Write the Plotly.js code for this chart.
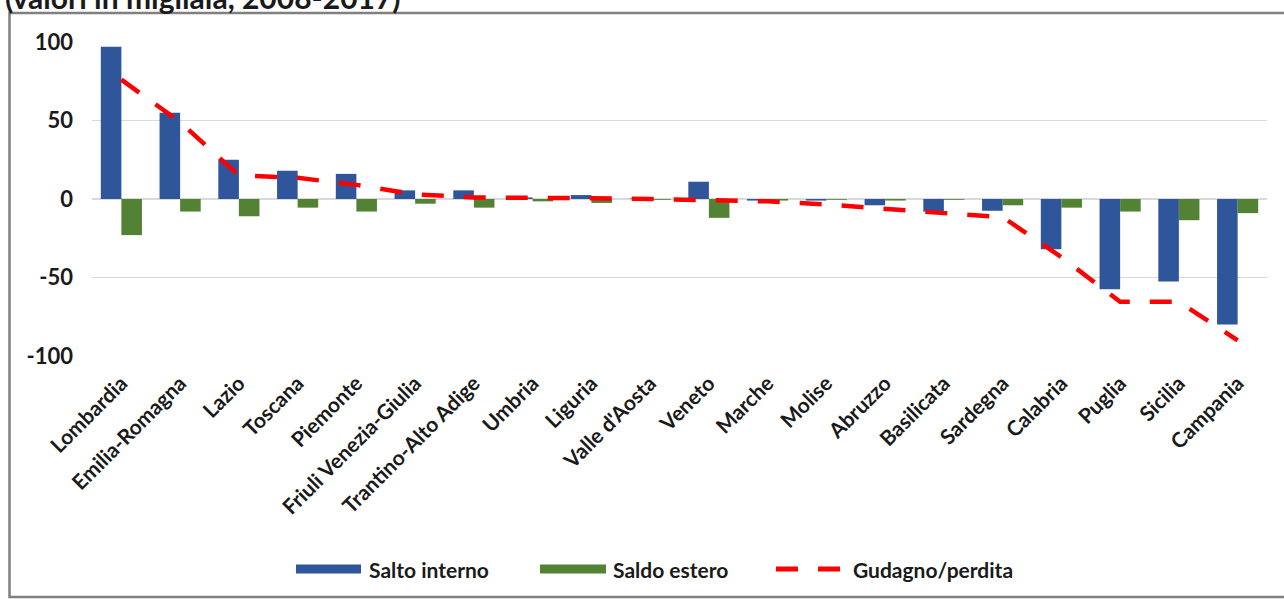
<!DOCTYPE html>
<html>
<head>
<meta charset="utf-8">
<script src="https://cdn.plot.ly/plotly-3.0.1.min.js"></script>
<style>
  html, body { margin: 0; padding: 0; background: #ffffff; }
  #chart { width: 1284px; height: 599px; }
</style>
</head>
<body>
<div id="chart"></div>
<script>
// Regioni, ordinate dal maggior guadagno alla maggior perdita
const regioni = [
  "Lombardia", "Emilia-Romagna", "Lazio", "Toscana", "Piemonte",
  "Friuli Venezia-Giulia", "Trantino-Alto Adige", "Umbria", "Liguria",
  "Valle d'Aosta", "Veneto", "Marche", "Molise", "Abruzzo", "Basilicata",
  "Sardegna", "Calabria", "Puglia", "Sicilia", "Campania"
];

// Valori in migliaia, 2008-2017
const saltoInterno = [97, 55, 25, 18, 16, 5.5, 5.5, 1, 2.5, 0.3, 11, -1, -1, -4, -8, -7.5, -32, -57.5, -52.5, -80];
const saldoEstero = [-23, -8, -11, -5.5, -8, -3, -5.5, -1.5, -2.5, -0.5, -12, -1, -0.5, -1, -0.5, -4, -5.5, -8, -13.5, -9];
const guadagnoPerdita = [76, 49, 15, 13.5, 9, 3, 1, 1, 0.5, 0, -0.5, -1.5, -3.5, -6.5, -9, -11.5, -37, -65.5, -65.5, -90];

const seriesNames = ["Salto interno", "Saldo estero", "Gudagno/perdita"];
const yTicks = [-100, -50, 0, 50, 100];
const subtitle = "(valori in migliaia, 2008-2017)";

const BLUE = "#2f559b";
const GREEN = "#548235";
const RED = "#ff0000";
const FONT = "Lato, 'Open Sans', sans-serif";

// Plot area in pixels (used to place the frame, subtitle and legend)
const W = 1284, H = 599;
const M = { l: 92, r: 17, t: 42, b: 243 };
const PW = W - M.l - M.r, PH = H - M.t - M.b;
const px = x => (x - M.l) / PW;
const py = y => (H - M.b - y) / PH;

const traces = [
  { type: "bar", name: seriesNames[0], x: regioni, y: saltoInterno,
    marker: { color: BLUE }, showlegend: false, hoverinfo: "x+y" },
  { type: "bar", name: seriesNames[1], x: regioni, y: saldoEstero,
    marker: { color: GREEN }, showlegend: false, hoverinfo: "x+y" },
  { type: "scatter", mode: "lines", name: seriesNames[2], x: regioni, y: guadagnoPerdita,
    line: { color: RED, width: 4.5, dash: "22px,20px" }, showlegend: false, hoverinfo: "x+y" }
];

// Legend drawn as wide swatches
const legendY = 569;
const shapes = [
  { type: "rect", xref: "paper", yref: "paper",
    x0: px(9.5), x1: px(1300), y0: py(597), y1: py(13),
    line: { color: "#808080", width: 2.5 }, fillcolor: "rgba(0,0,0,0)", layer: "below" },
  { type: "rect", xref: "paper", yref: "paper",
    x0: px(296), x1: px(361), y0: py(legendY + 4.5), y1: py(legendY - 4.5),
    line: { width: 0 }, fillcolor: BLUE },
  { type: "rect", xref: "paper", yref: "paper",
    x0: px(540), x1: px(606), y0: py(legendY + 4.5), y1: py(legendY - 4.5),
    line: { width: 0 }, fillcolor: GREEN },
  { type: "line", xref: "paper", yref: "paper",
    x0: px(776), x1: px(842), y0: py(legendY), y1: py(legendY),
    line: { color: RED, width: 5, dash: "22px,20px" } }
];

const legendText = (txt, x) => ({
  xref: "paper", yref: "paper", x: px(x), y: py(legendY),
  xanchor: "left", yanchor: "middle", showarrow: false, text: txt,
  font: { family: FONT, size: 21, color: "#1a1a1a", weight: "bold" }
});

const annotations = [
  { xref: "paper", yref: "paper", x: px(3), y: py(-2.5),
    xanchor: "left", yanchor: "middle", showarrow: false, text: subtitle,
    font: { family: FONT, size: 30, color: "#1a1a1a", weight: "bold" } },
  legendText(seriesNames[0], 367),
  legendText(seriesNames[1], 611),
  legendText(seriesNames[2], 851)
];

const layout = {
  width: W, height: H,
  margin: M,
  paper_bgcolor: "#ffffff", plot_bgcolor: "#ffffff",
  barmode: "group", bargap: 0.3, bargroupgap: 0,
  font: { family: FONT, color: "#1a1a1a" },
  xaxis: {
    type: "category", tickangle: -45, showgrid: false, zeroline: false,
    showline: false, ticks: "", ticklabelstandoff: 10,
    tickfont: { family: FONT, size: 21, color: "#1a1a1a", weight: "bold" }
  },
  yaxis: {
    range: [-100, 100], tickvals: yTicks, ticktext: yTicks.map(String),
    showgrid: true, gridcolor: "#d9d9d9", gridwidth: 1.5,
    zeroline: true, zerolinecolor: "#d9d9d9", zerolinewidth: 1.5,
    showline: false, ticks: "", ticklabelstandoff: 18,
    tickfont: { family: FONT, size: 22, color: "#1a1a1a", weight: "bold" }
  },
  shapes: shapes,
  annotations: annotations,
  showlegend: false
};

Plotly.newPlot("chart", traces, layout, { displayModeBar: false, staticPlot: true });
</script>
</body>
</html>
